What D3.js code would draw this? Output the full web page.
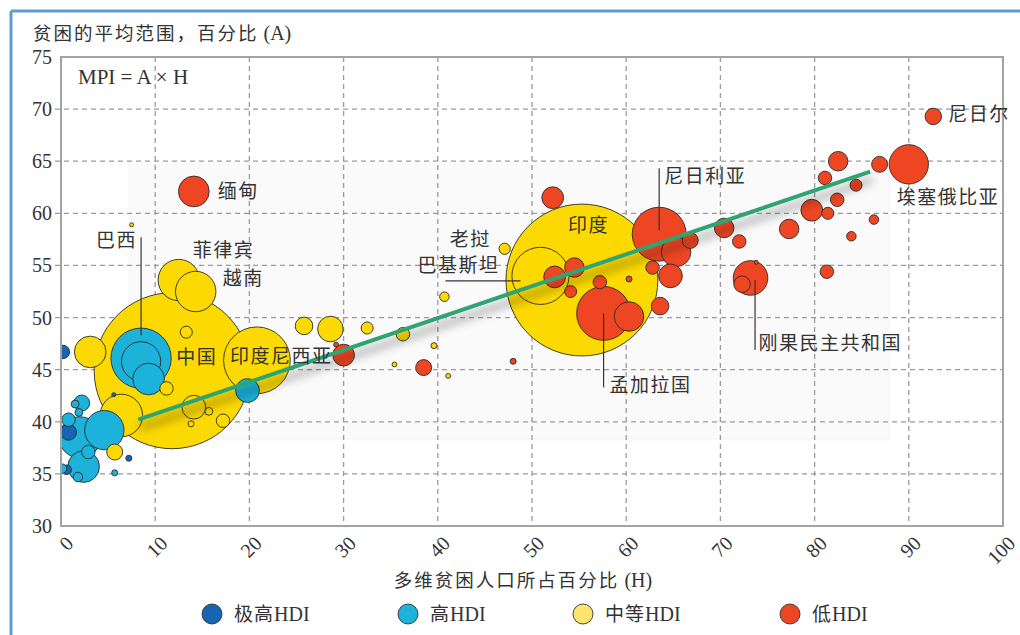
<!DOCTYPE html>
<html lang="zh">
<head>
<meta charset="utf-8">
<title>MPI</title>
<script src="https://d3js.org/d3.v7.min.js"></script>
<style>
body { margin: 0; background: #fff; }
svg text { fill: #333; }
.serif { font-family: "Liberation Serif", "Times New Roman", serif; }
.cjk { font-family: "Noto Sans CJK SC", sans-serif; }
</style>
</head>
<body>
<div id="chart"></div>
<script>
// 分类：V 极高HDI, H 高HDI, M 中等HDI, L 低HDI
var countries = ["中国", "印度", "印度尼西亚", "巴基斯坦", "巴西", "孟加拉国", "尼日利亚", "菲律宾", "越南",
  "埃塞俄比亚", "刚果民主共和国", "缅甸", "尼日尔", "老挝"];

// 每个气泡：H（多维贫困人口百分比），A（平均贫困强度），人口（百万），类别
var hValues = [
  0.2, 0.8, 0.6, 7.2, 5.6,
  8.5, 8.5, 9.3, 19.8, 2.0, 4.6, 2.2, 1.5, 1.9, 0.8, 2.9, 2.4, 1.8, 0.1, 5.7,
  11.8, 55.3, 20.8, 50.9, 12.5, 14.3, 6.4, 3.1, 14.1, 11.2, 13.3, 15.7, 17.2, 13.8, 5.7, 7.5,
  25.8, 28.6, 32.5, 36.3, 39.6, 35.4, 41.1, 40.7, 47.1,
  14.1, 30.0, 29.2, 38.5, 48.0, 52.2, 52.4, 54.5, 54.1, 57.2, 60.3, 57.6, 60.3, 63.6, 62.8,
  64.7, 63.5, 65.3, 66.8, 70.4, 72.0, 73.2, 72.3, 73.8, 77.3, 79.7, 81.4, 81.3, 83.9, 86.3,
  82.4, 81.1, 84.4, 82.5, 86.9, 90.0, 92.6
];
var aValues = [
  46.7, 39.0, 35.4, 36.5, 42.6,
  46.1, 45.8, 44.1, 43.0, 38.5, 39.2, 41.8, 41.7, 40.9, 40.2, 37.1, 35.7, 34.7, 35.5, 35.1,
  44.9, 53.6, 45.9, 54.0, 53.6, 52.5, 40.6, 46.7, 41.4, 43.2, 48.6, 41.0, 40.1, 39.8, 37.1, 58.9,
  49.2, 48.9, 49.0, 48.4, 47.3, 45.5, 44.4, 52.0, 56.6,
  62.1, 46.4, 47.4, 45.2, 45.8, 61.5, 53.9, 54.8, 52.5, 53.4, 53.7, 50.4, 50.1, 51.1, 54.8,
  54.0, 58.0, 56.3, 57.4, 58.6, 57.3, 53.8, 53.2, 55.3, 58.5, 60.3, 60.0, 54.4, 57.8, 59.4,
  61.3, 63.4, 62.7, 65.0, 64.7, 64.7, 69.3
];
var population = [
  10, 14, 5, 2, 0.9,
  200, 85, 55, 31, 94, 85, 14, 3.4, 3.4, 10, 10, 55, 5, 5, 2,
  1340, 1270, 245, 180, 94, 90, 100, 55, 31, 10, 8, 3.4, 10, 2, 14, 0.9,
  17, 36, 8, 10, 2, 1.3, 1.3, 5, 7,
  52, 26, 1.3, 14, 2, 26, 26, 21, 8, 10, 2, 160, 48, 17, 10,
  31, 160, 48, 14, 21, 10, 66, 15, 0.9, 21, 26, 8, 10, 5, 5,
  10, 10, 8, 21, 14, 85, 15
];
var hdiGroup = [
  "V", "V", "V", "V", "V",
  "H", "H", "H", "H", "H", "H", "H", "H", "H", "H", "H", "H", "H", "H", "H",
  "M", "M", "M", "M", "M", "M", "M", "M", "M", "M", "M", "M", "M", "M", "M", "M",
  "M", "M", "M", "M", "M", "M", "M", "M", "M",
  "L", "L", "L", "L", "L", "L", "L", "L", "L", "L", "L", "L", "L", "L", "L",
  "L", "L", "L", "L", "L", "L", "L", "L", "L", "L", "L", "L", "L", "L", "L",
  "L", "L", "L", "L", "L", "L", "L"
];
// 有名字的气泡下标
var namedIndex = {"巴西": 5, "中国": 20, "印度": 21, "印度尼西亚": 22, "巴基斯坦": 23, "菲律宾": 24, "越南": 25,
  "老挝": 44, "缅甸": 45, "孟加拉国": 56, "尼日利亚": 61, "刚果民主共和国": 66, "埃塞俄比亚": 80, "尼日尔": 81};

var trendH = [8.2, 85.9];
var trendA = [40.2, 64.0];

var xTicks = [0, 10, 20, 30, 40, 50, 60, 70, 80, 90, 100];
var yTicks = [30, 35, 40, 45, 50, 55, 60, 65, 70, 75];

var legendKeys = ["V", "H", "M", "L"];
var legendLabels = ["极高", "高", "中等", "低"];

// ---- 样式 ----
var fillColor = {V: "#1565b3", H: "#1cb2d9", M: "#fcd900", L: "#ee4623"};
var legendColor = {V: "#1565b3", H: "#1cb2d9", M: "#fde46c", L: "#ee4623"};

// 标签相对气泡中心的偏移（像素）
var labelLayout = {
  "缅甸": {dx: 24, dy: 0},
  "巴西": {dx: -4, dy: -118, anchor: "end", line: [0, -121, 0, -23]},
  "菲律宾": {dx: 14, dy: -30},
  "越南": {dx: 27, dy: -13},
  "中国": {dx: 4, dy: -14},
  "印度尼西亚": {dx: -27, dy: -4},
  "老挝": {dx: -55, dy: -10},
  "巴基斯坦": {dx: -123, dy: -11, line: [-95, 5, -20, 5]},
  "印度": {dx: -14, dy: -55},
  "尼日利亚": {dx: 5, dy: -58, line: [0, -66, 0, -4]},
  "孟加拉国": {dx: 6, dy: 72, line: [0, 0, 0, 74]},
  "刚果民主共和国": {dx: 8, dy: 65, line: [4.5, 2, 4.5, 72]},
  "埃塞俄比亚": {dx: -12, dy: 33},
  "尼日尔": {dx: 15, dy: -2}
};

var W = 1020, Hh = 635;
var margin = {left: 61, top: 57, right: 17, bottom: 109};
var width = W - margin.left - margin.right,
    height = Hh - margin.top - margin.bottom;

var svg = d3.select("#chart").append("svg").attr("width", W).attr("height", Hh);

// 外框（蓝色）
svg.append("line").attr("x1", 11).attr("y1", 11).attr("x2", W).attr("y2", 11)
  .attr("stroke", "#5b9bd8").attr("stroke-width", 3);
svg.append("line").attr("x1", 11).attr("y1", 11).attr("x2", 11).attr("y2", Hh)
  .attr("stroke", "#5b9bd8").attr("stroke-width", 3);

var defs = svg.append("defs");
defs.append("clipPath").attr("id", "plotclip").append("rect")
  .attr("width", width).attr("height", height);
var shadow = defs.append("filter").attr("id", "lineShadow")
  .attr("x", "-10%").attr("y", "-50%").attr("width", "120%").attr("height", "300%");
shadow.append("feDropShadow").attr("dx", 2).attr("dy", 8).attr("stdDeviation", 5)
  .attr("flood-color", "#000").attr("flood-opacity", 0.45);
var boxShadow = defs.append("filter").attr("id", "boxShadow")
  .attr("x", "-5%").attr("y", "-5%").attr("width", "110%").attr("height", "110%");
boxShadow.append("feDropShadow").attr("dx", 2).attr("dy", 2).attr("stdDeviation", 1.5)
  .attr("flood-color", "#000").attr("flood-opacity", 0.05);

var g = svg.append("g").attr("transform", "translate(" + margin.left + "," + margin.top + ")");

var x = d3.scaleLinear().domain([0, 100]).range([0, width]);
var y = d3.scaleLinear().domain([30, 75]).range([height, 0]);
var r = d3.scaleSqrt().domain([0, 1340]).range([0, 78]);

// 浅灰衬底
g.append("rect")
  .attr("x", x(7.1)).attr("y", y(64.8))
  .attr("width", x(87.7) - x(7.1)).attr("height", y(38.5) - y(64.8))
  .attr("fill", "#fafafa").attr("filter", "url(#boxShadow)");

// 网格
g.append("g").selectAll("line").data(xTicks.slice(1, -1)).join("line")
  .attr("x1", d => x(d)).attr("x2", d => x(d)).attr("y1", 0).attr("y2", height)
  .attr("stroke", "#9a9a9a").attr("stroke-width", 1.3).attr("stroke-dasharray", "5,4");
g.append("g").selectAll("line").data(yTicks.slice(1, -1)).join("line")
  .attr("y1", d => y(d)).attr("y2", d => y(d)).attr("x1", -6).attr("x2", width)
  .attr("stroke", "#9a9a9a").attr("stroke-width", 1.3).attr("stroke-dasharray", "5,4");

// 气泡
var bubbles = hValues.map(function (h, i) {
  return {h: h, a: aValues[i], pop: population[i], grp: hdiGroup[i], i: i};
});
bubbles.sort(function (p, q) { return q.pop - p.pop; });

g.append("g").attr("clip-path", "url(#plotclip)")
  .selectAll("circle").data(bubbles).join("circle")
  .attr("cx", d => x(d.h)).attr("cy", d => y(d.a)).attr("r", d => r(d.pop))
  .attr("fill", d => fillColor[d.grp])
  .attr("stroke", "#2b2b2b").attr("stroke-width", 0.9);

// 趋势线
var line = d3.line().x(d => x(d[0])).y(d => y(d[1]));
g.append("path").datum(d3.zip(trendH, trendA))
  .attr("d", line).attr("fill", "none")
  .attr("stroke", "#2ea473").attr("stroke-width", 4)
  .attr("filter", "url(#lineShadow)");

// 坐标框
g.append("rect").attr("width", width).attr("height", height)
  .attr("fill", "none").attr("stroke", "#a3a3a3").attr("stroke-width", 2);

// 刻度
g.append("g").selectAll("text").data(yTicks).join("text")
  .attr("class", "serif")
  .attr("x", -9).attr("y", d => y(d)).attr("dy", "0.35em")
  .attr("text-anchor", "end").style("font-size", "20px")
  .text(d => d);
g.append("g").selectAll("text").data(xTicks).join("text")
  .attr("class", "serif")
  .attr("transform", d => "translate(" + (x(d) + 3) + "," + (height + 8) + ") rotate(-45)")
  .attr("text-anchor", "end").attr("dy", "0.75em").style("font-size", "20px")
  .text(d => d);

// 轴标题（中文 + 西文括号部分）
function mixedTitle(sel, cn, latin) {
  sel.append("tspan").attr("class", "cjk").style("letter-spacing", "2px").text(cn);
  sel.append("tspan").attr("class", "serif").style("font-size", "20px").text(" " + latin);
}
mixedTitle(svg.append("text").attr("x", 33).attr("y", 40).style("font-size", "18.5px"),
  "贫困的平均范围，百分比", "(A)");
mixedTitle(svg.append("text").attr("x", margin.left + width / 2 - 9).attr("y", 587)
  .attr("text-anchor", "middle").style("font-size", "18.5px"),
  "多维贫困人口所占百分比", "(H)");

svg.append("text").attr("class", "serif").attr("x", 78).attr("y", 84)
  .style("font-size", "21px").text("MPI = A × H");

// 国家标注
var labels = g.append("g");
countries.forEach(function (name) {
  var b = bubbles.find(d => d.i === namedIndex[name]);
  var L = labelLayout[name];
  var cx = x(b.h), cy = y(b.a);
  if (L.line) {
    labels.append("line")
      .attr("x1", cx + L.line[0]).attr("y1", cy + L.line[1])
      .attr("x2", cx + L.line[2]).attr("y2", cy + L.line[3])
      .attr("stroke", "#333").attr("stroke-width", 1.2);
  }
  labels.append("text").attr("class", "cjk")
    .attr("x", cx + L.dx).attr("y", cy + L.dy).attr("dy", "0.36em")
    .attr("text-anchor", L.anchor || "start")
    .style("font-size", "19px").style("letter-spacing", "1.5px")
    .text(name);
});

// 图例
var legendX = [212, 408, 583, 790];
var lg = svg.append("g");
legendKeys.forEach(function (k, i) {
  lg.append("circle").attr("cx", legendX[i]).attr("cy", 614).attr("r", 10)
    .attr("fill", legendColor[k]).attr("stroke", "#333").attr("stroke-width", 0.9);
  var t = lg.append("text").attr("x", legendX[i] + 22).attr("y", 614).attr("dy", "0.36em")
    .style("font-size", "19px");
  t.append("tspan").attr("class", "cjk").style("letter-spacing", "1px").text(legendLabels[i]);
  t.append("tspan").attr("class", "serif").style("font-size", "20px").text("HDI");
});
</script>
</body>
</html>
